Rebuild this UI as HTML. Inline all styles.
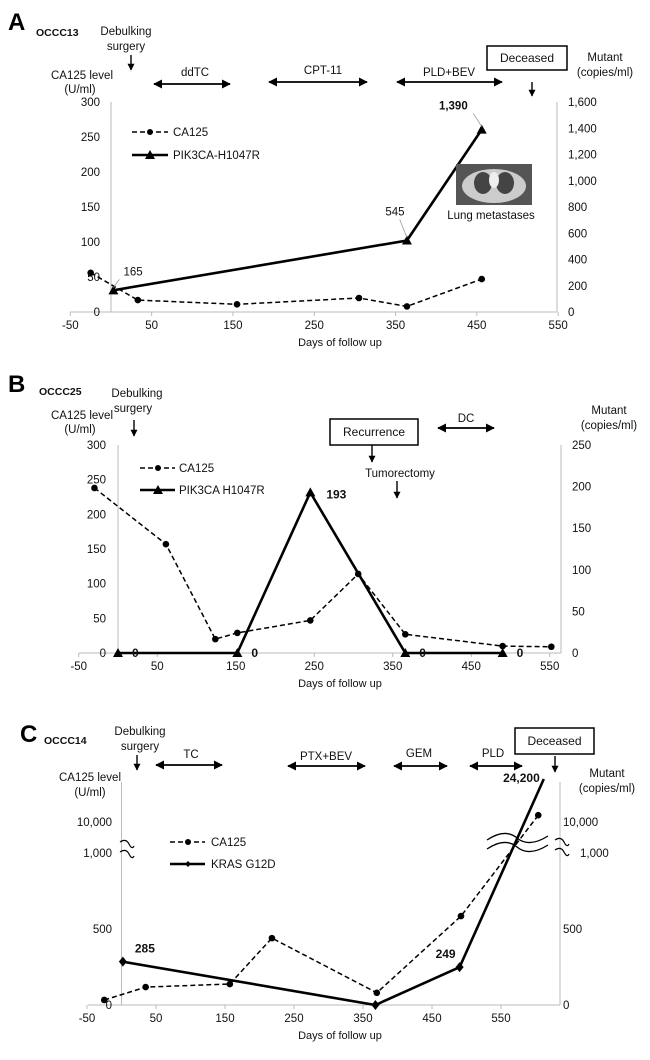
<!DOCTYPE html>
<html><head><meta charset="utf-8"><style>
body{margin:0;background:#fff}
svg{display:block;font-family:"Liberation Sans",Arial,sans-serif}
</style></head><body>
<svg id="fig" width="650" height="1060" viewBox="0 0 650 1060" xmlns="http://www.w3.org/2000/svg">
<defs>
<marker id="ah" viewBox="0 0 10 10" refX="9" refY="5" markerWidth="5" markerHeight="5" orient="auto-start-reverse"><path d="M0,0L10,5L0,10z" fill="#000"/></marker>
</defs>
</svg>
<script>
// Panel A data
const aCaDays=[-25,33,155,305,364,456];
const aCaVals=[56,17,11,20,8,47];
const aMutDays=[3,364,456];
const aMutVals=[165,545,1390];
const aMutLabels=["165","545","1,390"];
const aLeftTicks=[0,50,100,150,200,250,300];
const aRightTicks=["0","200","400","600","800","1,000","1,200","1,400","1,600"];
const xTicks=[-50,50,150,250,350,450,550];
// Panel B data
const bCaDays=[-30,61,124,152,245,306,366,490,552];
const bCaVals=[238,157,20,29,47,114,27,10,9];
const bMutDays=[0,152,245,366,490];
const bMutVals=[0,0,193,0,0];
const bMutLabels=["0","0","193","0","0"];
const bLeftTicks=[0,50,100,150,200,250,300];
const bRightTicks=[0,50,100,150,200,250];
// Panel C data
const cCaDays=[-25,35,157,218,370,492,604];
const cCaVals=[33,118,138,440,80,585,11500];
const cMutDays=[2,368,490,612];
const cMutVals=[285,0,249,24200];
const cMutLabels=["285","","249","24,200"];
const cTicks=[0,500,1000,10000];
const cTickLabels=["0","500","1,000","10,000"];

const S=document.getElementById('fig');
const NS='http://www.w3.org/2000/svg';
function el(tag,attrs,parent){const e=document.createElementNS(NS,tag);for(const k in attrs)e.setAttribute(k,attrs[k]);(parent||S).appendChild(e);return e;}
function txt(x,y,s,opts,parent){opts=opts||{};const t=el('text',{x:x,y:y,'font-size':opts.fs||11,'text-anchor':opts.a||'start','font-weight':opts.b?'bold':'normal',fill:opts.c||'#111'},parent);t.textContent=s;return t;}
function line(x1,y1,x2,y2,attrs,parent){return el('line',Object.assign({x1:x1,y1:y1,x2:x2,y2:y2,stroke:'#000','stroke-width':1},attrs||{}),parent);}
function path(pts){return pts.map((p,i)=>(i?'L':'M')+p[0].toFixed(1)+','+p[1].toFixed(1)).join('');}
function tri(x,y,g){return el('polygon',{points:`${x},${y-5} ${x-5},${y+4} ${x+5},${y+4}`,fill:'#000'},g);}
function dbl(x1,x2,y,g){const l=line(x1,y,x2,y,{'stroke-width':1.8,'marker-start':'url(#ah)','marker-end':'url(#ah)'},g);}
function down(x,y1,y2,g){const l=line(x,y1,x,y2,{'stroke-width':1.4,'marker-end':'url(#ah)'},g);}
function box(x,y,w,h,s,g){el('rect',{x:x,y:y,width:w,height:h,fill:'#fff',stroke:'#000','stroke-width':1.5},g);txt(x+w/2,y+h/2+4,s,{a:'middle',fs:12},g);}

function panel(cfg){
  const g=el('g',{});
  
  
  const X=d=>cfg.x0+d*cfg.xs;
  line(cfg.xl,cfg.y0,cfg.xr,cfg.y0,{stroke:'#bbb'},g);
  line(X(0),cfg.yTop,X(0),cfg.y0,{stroke:'#bbb'},g);
  line(cfg.xr,cfg.yTop,cfg.xr,cfg.y0,{stroke:'#bbb'},g);
  xTicks.forEach(d=>{txt(X(d),cfg.y0+17,String(d),{a:'middle',fs:11.5},g);line(X(d),cfg.y0,X(d),cfg.y0+4,{stroke:'#bbb'},g);});
  txt(340,cfg.y0+34,'Days of follow up',{a:'middle',fs:11},g);
  return {g,X};
}

// ---------- Panel A ----------
(function(){
  const c={name:'panel-a',x0:111,xs:0.813,y0:312,yTop:102,xl:70,xr:557};
  const {g,X}=panel(c);
  const YL=v=>c.y0-v/300*210, YR=v=>c.y0-v/1600*210;
  aLeftTicks.forEach(v=>txt(100,YL(v)+4,String(v),{a:'end',fs:11.5},g));
  aRightTicks.forEach((s,i)=>txt(568,YR(i*200)+4,s,{fs:11.5},g));
  const ca=el('path',{d:path(aCaDays.map((d,i)=>[X(d),YL(aCaVals[i])])),fill:'none',stroke:'#000','stroke-width':1.5,'stroke-dasharray':'5,3'},g);
  
  aCaDays.forEach((d,i)=>{const p=el('circle',{cx:X(d),cy:YL(aCaVals[i]),r:3.3,fill:'#000'},g);});
  const mu=el('path',{d:path(aMutDays.map((d,i)=>[X(d),YR(aMutVals[i])])),fill:'none',stroke:'#000','stroke-width':2.6},g);
  
  aMutDays.forEach((d,i)=>{const p=tri(X(d),YR(aMutVals[i]),g);});
  const offs=[[10,-15,'start'],[-12,-25,'middle'],[-14,-20,'end']];
  aMutDays.forEach((d,i)=>{const x=X(d),y=YR(aMutVals[i]);const o=offs[i];txt(x+o[0],y+o[1],aMutLabels[i],{a:o[2],fs:11.5,b:i===2},g);line(x,y-3,x+o[0]*0.6,y+o[1]+4,{stroke:'#999','stroke-width':0.8},g);});
  line(132,132,168,132,{'stroke-width':1.5,'stroke-dasharray':'5,3'},g);el('circle',{cx:150,cy:132,r:3,fill:'#000'},g);txt(173,136,'CA125',{fs:11.5},g);
  line(132,155,168,155,{'stroke-width':2.6},g);tri(150,155,g);txt(173,159,'PIK3CA-H1047R',{fs:11.5},g);
  txt(8,30,'A',{fs:24,b:true,c:'#000'},g);txt(36,36,'OCCC13',{fs:10.5,b:true},g);
  txt(126,35,'Debulking',{a:'middle',fs:11.5},g);txt(126,50,'surgery',{a:'middle',fs:11.5},g);down(131,55,70,g);
  txt(82,79,'CA125 level',{a:'middle',fs:11.5},g);txt(80,93,'(U/ml)',{a:'middle',fs:11.5},g);
  txt(195,76,'ddTC',{a:'middle',fs:11.5},g);dbl(154,230,84,g);
  txt(323,74,'CPT-11',{a:'middle',fs:11.5},g);dbl(269,367,82,g);
  txt(449,76,'PLD+BEV',{a:'middle',fs:11.5},g);dbl(397,502,82,g);
  box(487,46,80,24,'Deceased',g);down(532,82,96,g);
  txt(605,61,'Mutant',{a:'middle',fs:11.5},g);txt(605,76,'(copies/ml)',{a:'middle',fs:11.5},g);
  const im=el('g',{},g);
  el('rect',{x:456,y:164,width:76,height:41,fill:'#555'},im);
  el('ellipse',{cx:494,cy:186,rx:32,ry:17,fill:'#ccc'},im);
  el('ellipse',{cx:483,cy:183,rx:9,ry:11,fill:'#444'},im);
  el('ellipse',{cx:505,cy:183,rx:9,ry:11,fill:'#444'},im);
  el('ellipse',{cx:494,cy:180,rx:5,ry:8,fill:'#eee'},im);
  txt(491,219,'Lung metastases',{a:'middle',fs:11.5},g);
})();

// ---------- Panel B ----------
(function(){
  const c={name:'panel-b',x0:118,xs:0.785,y0:653,yTop:445,xl:79,xr:561};
  const {g,X}=panel(c);
  const YL=v=>c.y0-v/300*208, YR=v=>c.y0-v/250*208;
  bLeftTicks.forEach(v=>txt(106,YL(v)+4,String(v),{a:'end',fs:11.5},g));
  bRightTicks.forEach(v=>txt(572,YR(v)+4,String(v),{fs:11.5},g));
  const ca=el('path',{d:path(bCaDays.map((d,i)=>[X(d),YL(bCaVals[i])])),fill:'none',stroke:'#000','stroke-width':1.5,'stroke-dasharray':'5,3'},g);
  
  bCaDays.forEach((d,i)=>{const p=el('circle',{cx:X(d),cy:YL(bCaVals[i]),r:3.3,fill:'#000'},g);});
  const mu=el('path',{d:path(bMutDays.map((d,i)=>[X(d),YR(bMutVals[i])])),fill:'none',stroke:'#000','stroke-width':2.6},g);
  
  bMutDays.forEach((d,i)=>{const p=tri(X(d),YR(bMutVals[i]),g);});
  bMutDays.forEach((d,i)=>{const v=bMutVals[i];txt(X(d)+(v?16:14),YR(v)+(v?6:4),bMutLabels[i],{fs:12,b:true},g);});
  line(140,468,175,468,{'stroke-width':1.5,'stroke-dasharray':'5,3'},g);el('circle',{cx:158,cy:468,r:3,fill:'#000'},g);txt(179,472,'CA125',{fs:11.5},g);
  line(140,490,175,490,{'stroke-width':2.6},g);tri(158,490,g);txt(179,494,'PIK3CA H1047R',{fs:11.5},g);
  txt(8,392,'B',{fs:24,b:true,c:'#000'},g);txt(39,395,'OCCC25',{fs:10.5,b:true},g);
  txt(137,397,'Debulking',{a:'middle',fs:11.5},g);txt(133,412,'surgery',{a:'middle',fs:11.5},g);down(134,420,436,g);
  txt(82,419,'CA125 level',{a:'middle',fs:11.5},g);txt(80,433,'(U/ml)',{a:'middle',fs:11.5},g);
  box(330,419,88,26,'Recurrence',g);down(372,445,462,g);
  txt(400,477,'Tumorectomy',{a:'middle',fs:11.5},g);down(397,481,498,g);
  txt(466,422,'DC',{a:'middle',fs:11.5},g);dbl(438,494,428,g);
  txt(609,414,'Mutant',{a:'middle',fs:11.5},g);txt(609,429,'(copies/ml)',{a:'middle',fs:11.5},g);
})();

// ---------- Panel C ----------
(function(){
  const c={name:'panel-c',x0:121.5,xs:0.69,y0:1005,yTop:782,xl:88,xr:560};
  const {g,X}=panel(c);
  const Y=v=>{if(v<=1000)return c.y0-v/500*76;if(v<=10000)return 853-(Math.log10(v)-3)*31;return 822-(Math.log10(v)-4)*112;};
  cTicks.forEach((v,i)=>{txt(112,Y(v)+4,cTickLabels[i],{a:'end',fs:11.5},g);txt(v===1000?580:563,Y(v)+4,cTickLabels[i],{fs:11.5},g);});
  const b1=el('path',{d:'M120,842 Q126,838 129,844 T134,846 M120,852 Q126,848 129,854 T134,856',fill:'none',stroke:'#000','stroke-width':1.2},g);
  
  const b2=el('path',{d:'M555,840 Q561,836 564,842 T569,844 M555,850 Q561,846 564,852 T569,854',fill:'none',stroke:'#000','stroke-width':1.2},g);
  
  const ca=el('path',{d:path(cCaDays.map((d,i)=>[X(d),Y(cCaVals[i])])),fill:'none',stroke:'#000','stroke-width':1.5,'stroke-dasharray':'5,3'},g);
  
  cCaDays.forEach((d,i)=>{const p=el('circle',{cx:X(d),cy:Y(cCaVals[i]),r:3.3,fill:'#000'},g);});
  const mu=el('path',{d:path(cMutDays.map((d,i)=>[X(d),Y(cMutVals[i])])),fill:'none',stroke:'#000','stroke-width':2.6},g);
  
  cMutDays.slice(0,3).forEach((d,i)=>{const x=X(d),y=Y(cMutVals[i]);const p=el('polygon',{points:`${x},${y-5} ${x+4},${y} ${x},${y+5} ${x-4},${y}`,fill:'#000'},g);});
  const lo=[[12,-9,'start'],[0,0,'start'],[-4,-9,'end'],[-4,3,'end']];
  cMutDays.forEach((d,i)=>{if(cMutLabels[i])txt(X(d)+lo[i][0],Y(cMutVals[i])+lo[i][1],cMutLabels[i],{a:lo[i][2],fs:12,b:true},g);});
  el('path',{d:'M487,840 Q505,828 517,838 T548,836 M487,849 Q505,837 517,847 T548,845',fill:'none',stroke:'#000','stroke-width':1.3},g);
  line(170,842,205,842,{'stroke-width':1.5,'stroke-dasharray':'5,3'},g);el('circle',{cx:188,cy:842,r:3,fill:'#000'},g);txt(211,846,'CA125',{fs:11.5},g);
  line(170,864,205,864,{'stroke-width':2.6},g);el('polygon',{points:'188,861 191,864 188,867 185,864',fill:'#000'},g);txt(211,868,'KRAS G12D',{fs:11.5},g);
  txt(20,742,'C',{fs:24,b:true,c:'#000'},g);txt(44,744,'OCCC14',{fs:10.5,b:true},g);
  txt(140,735,'Debulking',{a:'middle',fs:11.5},g);txt(140,750,'surgery',{a:'middle',fs:11.5},g);down(137,755,770,g);
  txt(191,758,'TC',{a:'middle',fs:11.5},g);dbl(156,222,765,g);
  txt(326,760,'PTX+BEV',{a:'middle',fs:11.5},g);dbl(288,365,766,g);
  txt(419,757,'GEM',{a:'middle',fs:11.5},g);dbl(394,447,766,g);
  txt(493,757,'PLD',{a:'middle',fs:11.5},g);dbl(470,522,766,g);
  box(515,728,79,26,'Deceased',g);down(555,756,772,g);
  txt(90,781,'CA125 level',{a:'middle',fs:11.5},g);txt(90,796,'(U/ml)',{a:'middle',fs:11.5},g);
  txt(607,777,'Mutant',{a:'middle',fs:11.5},g);txt(607,792,'(copies/ml)',{a:'middle',fs:11.5},g);
})();
</script>
</body></html>
